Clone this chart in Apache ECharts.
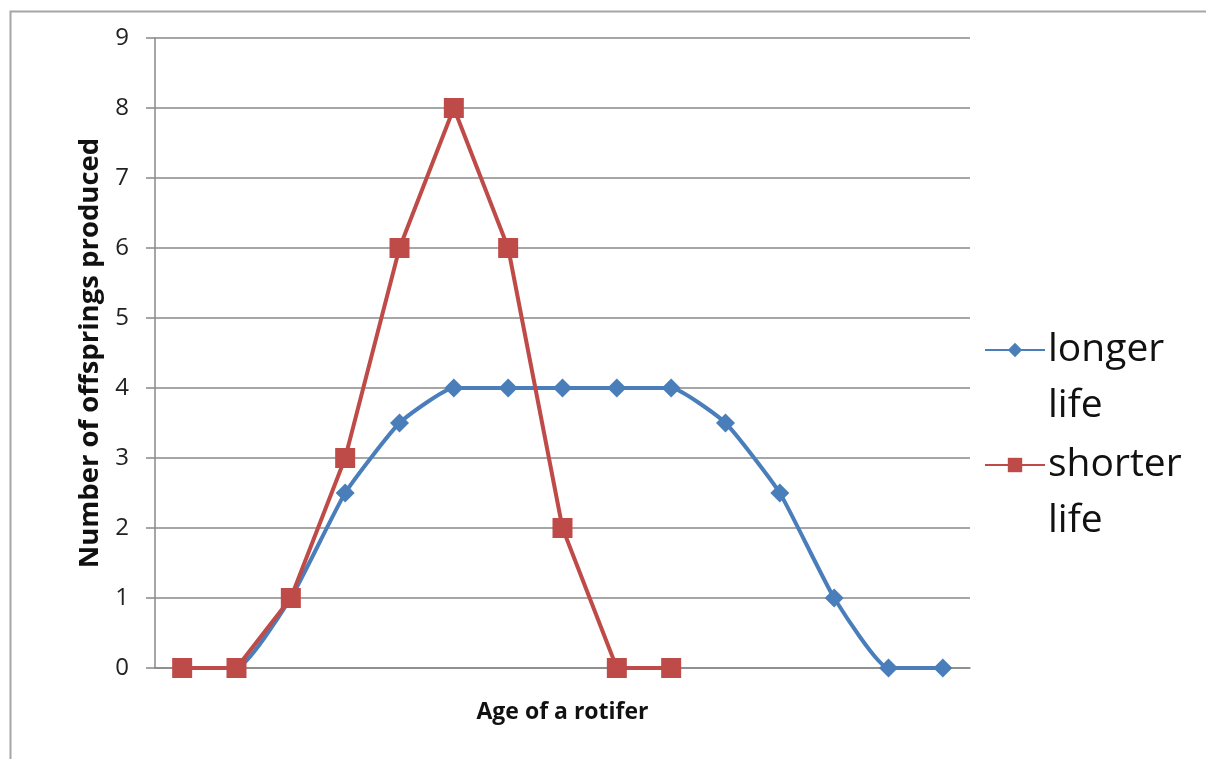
<!DOCTYPE html>
<html>
<head>
<meta charset="utf-8">
<script src="https://cdn.jsdelivr.net/npm/echarts@6/dist/echarts.min.js"></script>
<style>
html,body{margin:0;padding:0;background:#fff;}
#chart{width:1206px;height:759px;}
</style>
</head>
<body>
<div id="chart"></div>
<script>
var categories = ['1','2','3','4','5','6','7','8','9','10','11','12','13','14','15'];
var longerLife = [0, 0, 1, 2.5, 3.5, 4, 4, 4, 4, 4, 3.5, 2.5, 1, 0, 0];
var shorterLife = [0, 0, 1, 3, 6, 8, 6, 2, 0, 0, null, null, null, null, null];
var seriesNames = ['longer life', 'shorter life'];
var yTicks = {min: 0, max: 9, interval: 1};

var chart = echarts.init(document.getElementById('chart'));
var FONT = 'Open Sans';
function legendFor(name, top) {
  return {
    orient: 'vertical',
    left: 979, top: top,
    itemWidth: 60, itemHeight: 18,
    data: [name],
    formatter: function (n) { return ' \n' + n.replace(' ', '\n'); },
    textStyle: {fontFamily: FONT, fontSize: 39, color: '#111', lineHeight: 56, padding: [0, 0, 0, -2]}
  };
}
chart.setOption({
  animation: false,
  backgroundColor: '#fff',
  graphic: [{
    type: 'rect', left: 8, top: 9, z: -1,
    shape: {width: 1300, height: 800},
    style: {fill: 'none', stroke: '#a6a6a6', lineWidth: 2}
  }],
  grid: {left: 155, right: 236, top: 38, bottom: 91},
  legend: [legendFor(seriesNames[0], 345 - 84), legendFor(seriesNames[1], 460 - 84)],
  xAxis: {
    type: 'category',
    data: categories,
    boundaryGap: true,
    name: 'Age of a rotifer',
    nameLocation: 'middle',
    nameGap: 33,
    nameTextStyle: {fontFamily: FONT, fontWeight: 'bold', fontSize: 23, color: '#111'},
    axisLine: {show: true, lineStyle: {color: '#888', width: 1.5}},
    axisTick: {show: false},
    axisLabel: {show: false}
  },
  yAxis: {
    type: 'value',
    min: yTicks.min, max: yTicks.max, interval: yTicks.interval,
    name: 'Number of offsprings produced',
    nameLocation: 'middle',
    nameGap: 50,
    nameTextStyle: {fontFamily: FONT, fontWeight: 'bold', fontSize: 27.5, color: '#111'},
    axisLine: {show: true, lineStyle: {color: '#888', width: 1.5}},
    axisTick: {show: true, length: 9, lineStyle: {color: '#888', width: 1.5}},
    axisLabel: {fontFamily: FONT, fontSize: 24, color: '#222', margin: 26},
    splitLine: {show: true, lineStyle: {color: '#888', width: 1.5}}
  },
  series: [{
    name: seriesNames[0],
    type: 'line',
    data: longerLife,
    smooth: 0.15,
    symbol: 'diamond',
    symbolSize: 19,
    color: '#4a7ebb',
    lineStyle: {width: 4, color: '#4a7ebb'},
    itemStyle: {color: '#4a7ebb'},
    z: 2
  }, {
    name: seriesNames[1],
    type: 'line',
    data: shorterLife,
    symbol: 'rect',
    symbolSize: 20,
    color: '#be4b48',
    lineStyle: {width: 4, color: '#be4b48'},
    itemStyle: {color: '#be4b48'},
    z: 3
  }]
});
</script>
</body>
</html>
